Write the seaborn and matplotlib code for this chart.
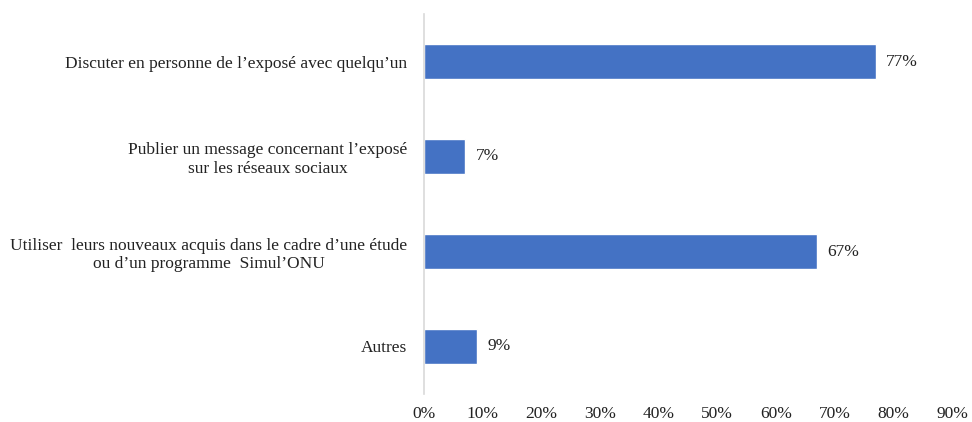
import matplotlib
matplotlib.use("Agg")
import matplotlib.pyplot as plt
import seaborn as sns
import pandas as pd
from matplotlib.ticker import FuncFormatter

categories = [
    "Discuter en personne de l\u2019exposé avec quelqu\u2019un",
    "Publier un message concernant l\u2019exposé\nsur les réseaux sociaux",
    "Utiliser  leurs nouveaux acquis dans le cadre d\u2019une étude\nou d\u2019un programme  Simul\u2019ONU",
    "Autres",
]
values = [77, 7, 67, 9]
x_ticks = [0, 10, 20, 30, 40, 50, 60, 70, 80, 90]

df = pd.DataFrame({"cat": categories, "val": values})

sns.set_theme(style="white")
plt.rcParams["font.family"] = ["Liberation Serif", "DejaVu Serif"]

fig = plt.figure(figsize=(9.72, 4.22), dpi=100)
ax = fig.add_axes([424 / 972, 1 - 394 / 422, (952 - 424) / 972, (394 - 14) / 422])

sns.barplot(data=df, x="val", y="cat", color="#4472C4", width=0.36, ax=ax,
            saturation=1, orient="h")

ax.set_xlim(0, 90)
ax.set_ylim(3.5, -0.5)
ax.set_xticks(x_ticks)
ax.xaxis.set_major_formatter(FuncFormatter(lambda v, p: f"{int(v)}%"))
ax.set_xlabel("")
ax.set_ylabel("")
ax.tick_params(axis="both", length=0, labelsize=12.5, colors="#222222")
ax.tick_params(axis="x", pad=9)
ax.tick_params(axis="y", pad=12)
for lab in ax.get_yticklabels():
    lab.set_multialignment("center")

for s in ["top", "right", "bottom"]:
    ax.spines[s].set_visible(False)
ax.spines["left"].set_color("#d9d9d9")
ax.spines["left"].set_linewidth(1.2)

for i, v in enumerate(values):
    ax.text(v + 1.8, i, f"{v}%", va="center", ha="left", fontsize=12.5, color="#222222")

fig.savefig("out.png", dpi=100)
